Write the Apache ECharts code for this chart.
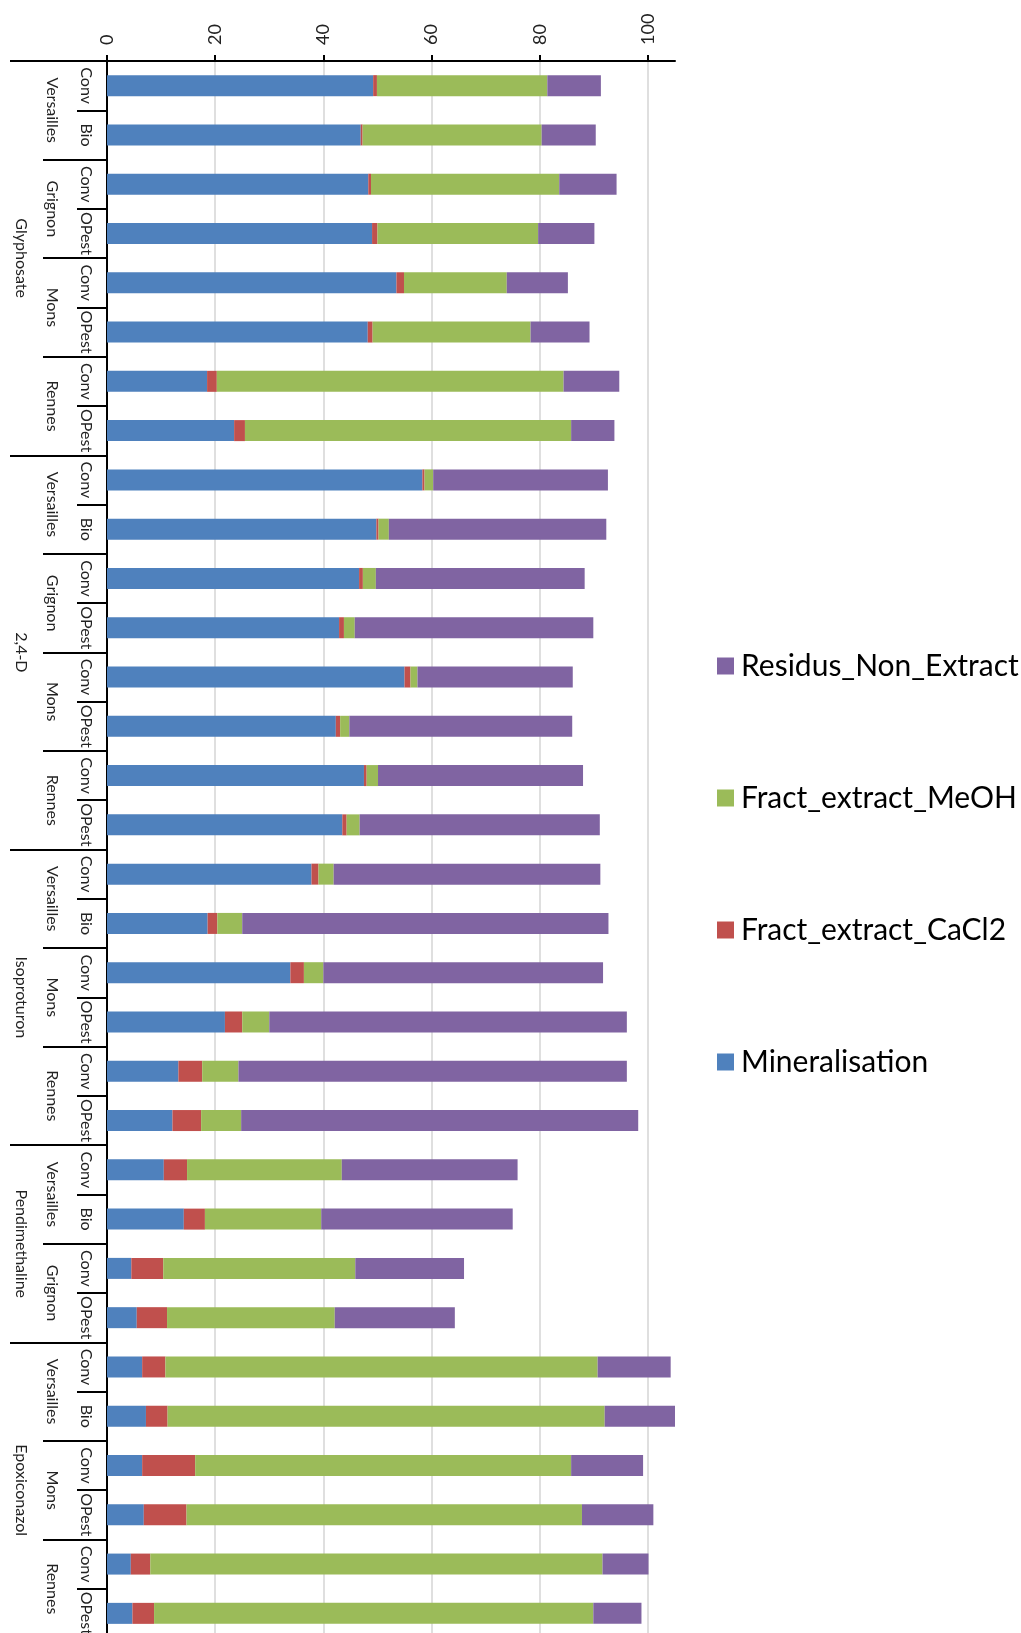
<!DOCTYPE html>
<html>
<head>
<meta charset="utf-8">
<script src="https://cdn.jsdelivr.net/npm/echarts@6/dist/echarts.min.js"></script>
<style>
html,body{margin:0;padding:0;background:#fff;overflow:hidden;}
#c{width:1021px;height:1650px;}
</style>
</head>
<body>
<div id="c"></div>
<script>
// ---- data ----
var treatments = ['Conv','Bio','Conv','OPest','Conv','OPest','Conv','OPest',
  'Conv','Bio','Conv','OPest','Conv','OPest','Conv','OPest',
  'Conv','Bio','Conv','OPest','Conv','OPest',
  'Conv','Bio','Conv','OPest',
  'Conv','Bio','Conv','OPest','Conv','OPest'];
var sites = ['Versailles','Grignon','Mons','Rennes',
  'Versailles','Grignon','Mons','Rennes',
  'Versailles','Mons','Rennes',
  'Versailles','Grignon',
  'Versailles','Mons','Rennes'];
var pesticides = ['Glyphosate','2,4-D','Isoproturon','Pendimethaline','Epoxiconazol'];
var pesticideBarCounts = [8, 8, 6, 4, 6];

var mineralisation = [49.2,46.9,48.3,49.0,53.5,48.2,18.5,23.5,
  58.3,49.8,46.6,42.9,55.0,42.3,47.5,43.5,
  37.8,18.6,33.9,21.8,13.2,12.1,
  10.5,14.2,4.5,5.5,
  6.5,7.2,6.5,6.8,4.4,4.7];
var cacl2 = [0.7,0.35,0.5,1.0,1.4,0.9,1.8,2.0,
  0.4,0.4,0.7,0.9,1.1,0.8,0.5,0.8,
  1.3,1.8,2.5,3.2,4.4,5.3,
  4.3,3.9,5.9,5.6,
  4.3,4.0,9.8,7.9,3.6,4.0];
var meoh = [31.5,33.1,34.8,29.7,19.0,29.2,64.1,60.3,
  1.6,1.9,2.4,2.0,1.3,1.7,2.1,2.4,
  2.8,4.6,3.6,5.0,6.7,7.4,
  28.6,21.5,35.5,31.0,
  79.9,80.8,69.5,73.1,83.6,81.2];
var residus = [9.9,10.0,10.6,10.4,11.3,10.9,10.3,8.0,
  32.3,40.2,38.6,44.1,28.7,41.2,37.9,44.4,
  49.3,67.7,51.7,66.1,71.8,73.4,
  32.5,35.4,20.1,22.2,
  13.5,13.0,13.3,13.2,8.5,8.9];
var valueTicks = [0, 20, 40, 60, 80, 100];

// ---- build level-3 axis (boundary based) ----
var boundaries = [0];
var level3 = [];
for (var i = 0; i <= treatments.length; i++) level3.push('');
var pos = 0;
pesticides.forEach(function (p, k) {
  var n = pesticideBarCounts[k];
  level3[pos + n / 2] = p;
  pos += n;
  boundaries.push(pos);
});

var FONT = 'Lato';
var chart = echarts.init(document.getElementById('c'));
var GRID_LEFT = 107, GRID_TOP = 61, GRID_H = 1577, GRID_W = 568;
var colors = ['#4F81BD', '#C0504D', '#9BBB59', '#8064A2'];

function barSeries(name, data, color) {
  return {
    name: name, type: 'bar', stack: 'total', data: data,
    xAxisIndex: 0, yAxisIndex: 0, barWidth: 21,
    itemStyle: { color: color }, emphasis: { disabled: true }
  };
}

chart.setOption({
  animation: false,
  backgroundColor: '#fff',
  textStyle: { fontFamily: FONT },
  grid: [
    { left: GRID_LEFT, top: GRID_TOP, width: GRID_W, height: GRID_H, outerBoundsMode: 'none', containLabel: false },
    { left: GRID_LEFT, top: GRID_TOP, width: GRID_W * valueTicks[valueTicks.length - 1] / 105, height: GRID_H, outerBoundsMode: 'none', containLabel: false }
  ],
  legend: {
    orient: 'vertical', left: 712, top: 646, itemGap: 102,
    itemWidth: 17, itemHeight: 17, icon: 'rect',
    data: ['Residus_Non_Extract', 'Fract_extract_MeOH', 'Fract_extract_CaCl2', 'Mineralisation'],
    textStyle: { fontFamily: FONT, fontSize: 30, color: '#000', padding: [0, 0, 0, 2] }
  },
  xAxis: [
    { gridIndex: 0, type: 'value', position: 'top', min: 0, max: 105,
      axisLine: { show: true, lineStyle: { color: '#000', width: 2 } },
      axisTick: { show: false }, axisLabel: { show: false }, splitLine: { show: false } },
    { gridIndex: 1, type: 'value', position: 'top', min: valueTicks[0], max: valueTicks[valueTicks.length - 1], interval: 20,
      axisLine: { show: false },
      axisTick: { show: true, length: 6, lineStyle: { color: '#000', width: 2 } },
      axisLabel: { rotate: -90, margin: 16, fontFamily: FONT, fontSize: 18, color: '#222' },
      splitLine: { show: true, lineStyle: { color: '#D4D4D4', width: 1.5 } } }
  ],
  yAxis: [
    { gridIndex: 0, type: 'category', inverse: true, data: treatments, position: 'left',
      axisLine: { show: true, lineStyle: { color: '#000', width: 2 } },
      axisTick: { show: true, interval: 0, length: 30, lineStyle: { color: '#000', width: 2 } },
      axisLabel: { interval: 0, rotate: -90, margin: 13, fontFamily: FONT, fontSize: 16, color: '#222' } },
    { gridIndex: 0, type: 'category', inverse: true, data: sites, position: 'left', offset: 30,
      axisLine: { show: false },
      axisTick: { show: true, interval: 0, length: 34, lineStyle: { color: '#000', width: 2 } },
      axisLabel: { interval: 0, rotate: -90, margin: 17, fontFamily: FONT, fontSize: 16, color: '#222' } },
    { gridIndex: 0, type: 'category', inverse: true, data: level3, boundaryGap: false, position: 'left', offset: 64,
      axisLine: { show: false },
      axisTick: { show: true, length: 33, lineStyle: { color: '#000', width: 2 },
        interval: function (idx) { return boundaries.indexOf(idx) >= 0; } },
      axisLabel: { interval: 0, rotate: -90, margin: 14, fontFamily: FONT, fontSize: 16, color: '#222' } },
    { gridIndex: 1, type: 'category', inverse: true, data: treatments, show: false }
  ],
  series: [
    barSeries('Mineralisation', mineralisation, colors[0]),
    barSeries('Fract_extract_CaCl2', cacl2, colors[1]),
    barSeries('Fract_extract_MeOH', meoh, colors[2]),
    barSeries('Residus_Non_Extract', residus, colors[3])
  ]
});
</script>
</body>
</html>
